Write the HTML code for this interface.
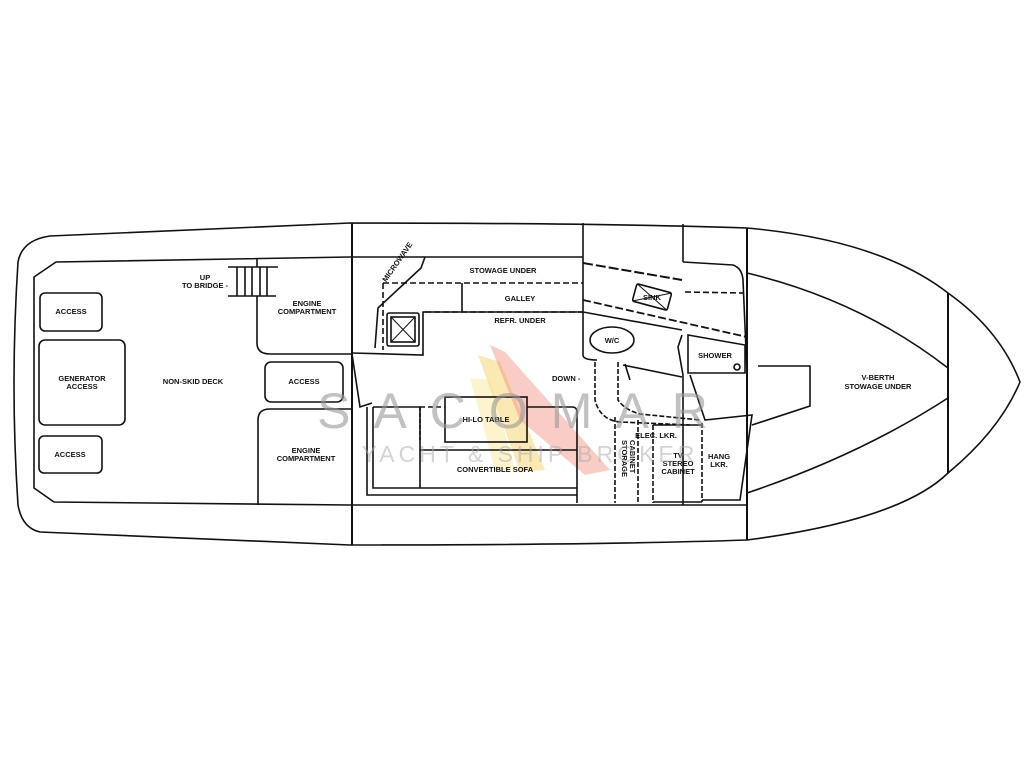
<!DOCTYPE html>
<html><head><meta charset="utf-8"><style>
html,body{margin:0;padding:0;background:#fff;width:1024px;height:768px;overflow:hidden}
svg{display:block}
text{font-family:"Liberation Sans",sans-serif;font-weight:bold;fill:#111}
.l{font-size:7.5px}
</style></head><body>
<svg width="1024" height="768" viewBox="0 0 1024 768" xmlns="http://www.w3.org/2000/svg">
<!-- watermark sails -->
<polygon points="478,355 500,362 545,470 520,472" fill="#f5c842" opacity="0.4"/>
<polygon points="490,345 505,352 610,470 585,475 520,420" fill="#f08070" opacity="0.4"/>
<polygon points="470,378 490,380 515,470 495,470" fill="#f8e070" opacity="0.35"/>
<g fill="none" stroke="#111" stroke-width="1.6">
<path d="M747,228 Q600,223 350,223 L50,236 Q22,240 18,262 Q10,385 18,505 Q22,528 40,532 L350,545 Q600,545 747,540 Q900,520 948,473 Q1000,430 1020,382 Q1000,330 948,293 Q880,240 747,228 Z"/>
<path d="M350,257 L56,262 L34,277 L34,488 L54,502 L350,505"/>
<path d="M350,257 L583,257"/>
<path d="M350,505 L747,505"/>
<path d="M352,223 L352,545" stroke-width="2"/>
<path d="M583,223 L583,355 Q583,360 597,360"/>
<path d="M683,224 L683,262"/>
<path d="M747,228 L747,540" stroke-width="2"/>
<path d="M948,293 L948,473" stroke-width="2"/>
<path d="M747,273 Q860,300 948,368"/>
<path d="M747,493 Q860,455 948,398"/>
<path d="M758,366 L810,366 L810,406 L752,425"/>
<rect x="40" y="293" width="62" height="38" rx="5"/>
<rect x="39" y="340" width="86" height="85" rx="6"/>
<rect x="39" y="436" width="63" height="37" rx="5"/>
<rect x="265" y="362" width="78" height="40" rx="6"/>
<path d="M228,267 L278,267 M228,296 L276,296 M237,267 L237,296 M245,267 L245,296 M252,267 L252,296 M260,267 L260,296 M267,267 L267,296 M257,258 L257,267"/>
<path d="M257,296 L257,343 Q257,354 270,354 L352,354"/>
<path d="M258,505 L258,420 Q258,409 270,409 L352,409"/>
<path d="M352,354 L360,407 L372,403"/>
<path d="M425,257 L421,268 L378,308 L375,348"/>
<path d="M383,283 L583,283 M383,283 L383,350 M425,312 L583,312" stroke-dasharray="6,3"/>
<path d="M462,283 L462,312"/>
<path d="M352,353 L423,355 L423,312 L583,312"/>
<rect x="387" y="313" width="32" height="33" rx="2"/>
<rect x="391" y="317" width="24" height="25"/>
<path d="M391,317 L415,342 M415,317 L391,342" stroke-width="1"/>
<rect x="445" y="397" width="82" height="45"/>
<path d="M367,407 L367,495 L577,495 M373,407 L373,488 L577,488 M373,407 L420,407 L420,488 M420,450 L577,450 M527,407 L572,407 Q577,407 577,412 L577,503"/>
<path d="M420,407 L445,407" stroke-dasharray="5,3"/>
<path d="M420,407 L420,440" stroke-dasharray="4,2"/>
<path d="M595,362 L595,400 Q600,420 620,422 L690,425" stroke-dasharray="5,2"/>
<path d="M618,362 L618,400 Q625,410 640,414 L700,420" stroke-dasharray="5,2"/>
<path d="M625,364 L630,380"/>
<path d="M583,263 L682,280" stroke-dasharray="10,3" stroke-width="2"/>
<path d="M583,300 L747,337" stroke-dasharray="8,3" stroke-width="1.8"/>
<path d="M583,312 L682,330"/>
<path d="M623,365 L682,377"/>
<path d="M683,262 L733,265 Q742,268 743,280 L747,373"/>
<path d="M685,292 L743,293" stroke-dasharray="6,3"/>
<path d="M682,335 L678,347 L683,375 L683,505"/>
<path d="M688,335 L745,345 L745,373 L688,373 Z"/>
<circle cx="737" cy="367" r="3"/>
<ellipse cx="612" cy="340" rx="22" ry="13"/>
<g transform="rotate(15 652 297)"><rect x="634" y="288" width="36" height="18" rx="2"/><path d="M634,288 L670,306 M670,288 L634,306" stroke-width="1"/></g>
<path d="M690,375 L705,420 L752,415 L740,500 L702,500"/>
<path d="M615,417 L615,503 M638,420 L638,503 M653,425 L653,503 M702,423 L702,502" stroke-dasharray="5,2"/>
<path d="M653,425 L702,425 M653,502 L702,502"/>
</g>
<text class="l" x="71" y="314" text-anchor="middle">ACCESS</text>
<text class="l" x="82" y="381" text-anchor="middle">GENERATOR</text>
<text class="l" x="82" y="389" text-anchor="middle">ACCESS</text>
<text class="l" x="70" y="457" text-anchor="middle">ACCESS</text>
<text class="l" x="193" y="384" text-anchor="middle">NON-SKID DECK</text>
<text class="l" x="205" y="280" text-anchor="middle">UP</text>
<text class="l" x="205" y="288" text-anchor="middle">TO BRIDGE -</text>
<text class="l" x="307" y="306" text-anchor="middle">ENGINE</text>
<text class="l" x="307" y="314" text-anchor="middle">COMPARTMENT</text>
<text class="l" x="304" y="384" text-anchor="middle">ACCESS</text>
<text class="l" x="306" y="453" text-anchor="middle">ENGINE</text>
<text class="l" x="306" y="461" text-anchor="middle">COMPARTMENT</text>
<text class="l" x="378" y="293" transform="rotate(-55 372 280)">MICROWAVE</text>
<text class="l" x="503" y="273" text-anchor="middle">STOWAGE UNDER</text>
<text class="l" x="520" y="301" text-anchor="middle">GALLEY</text>
<text class="l" x="520" y="323" text-anchor="middle">REFR. UNDER</text>
<text class="l" x="486" y="422" text-anchor="middle">HI-LO TABLE</text>
<text class="l" x="495" y="472" text-anchor="middle">CONVERTIBLE SOFA</text>
<text class="l" x="552" y="381">DOWN -</text>
<text class="l" x="612" y="343" text-anchor="middle">W/C</text>
<text class="l" x="715" y="358" text-anchor="middle">SHOWER</text>
<text class="l" x="652" y="300" text-anchor="middle" font-size="6">SINK</text>
<text class="l" x="656" y="438" text-anchor="middle">ELEC. LKR.</text>
<text class="l" x="678" y="458" text-anchor="middle">TV</text>
<text class="l" x="678" y="466" text-anchor="middle">STEREO</text>
<text class="l" x="678" y="474" text-anchor="middle">CABINET</text>
<text class="l" x="719" y="459" text-anchor="middle">HANG</text>
<text class="l" x="719" y="467" text-anchor="middle">LKR.</text>
<text class="l" x="622" y="440" transform="rotate(90 622 440)" font-size="7">STORAGE</text>
<text class="l" x="630" y="440" transform="rotate(90 630 440)" font-size="7">CABINET</text>
<text class="l" x="878" y="380" text-anchor="middle">V-BERTH</text>
<text class="l" x="878" y="389" text-anchor="middle">STOWAGE UNDER</text>
<text x="524" y="428" text-anchor="middle" style="font-size:50px;font-weight:normal;fill:#999;opacity:0.6;letter-spacing:23px">SACOMAR</text>
<text x="530" y="462" text-anchor="middle" style="font-size:23px;font-weight:normal;fill:#aaa;opacity:0.5;letter-spacing:4px">YACHT &amp; SHIP BROKER</text>
</svg>
</body></html>
